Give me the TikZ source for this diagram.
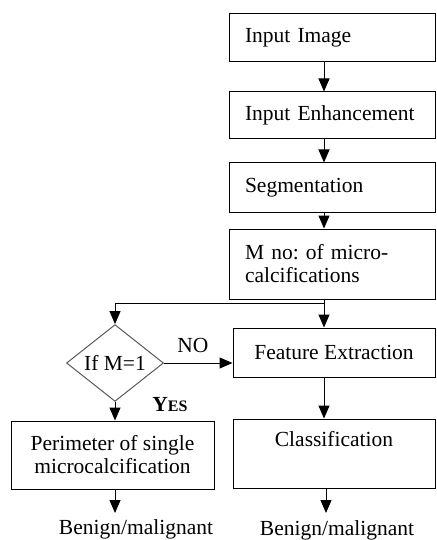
\documentclass[tikz,border=0pt]{standalone}
\usepackage{fontspec}
\setmainfont{Liberation Serif}
\usepackage{tikz}
\usetikzlibrary{shapes.geometric, arrows.meta, positioning}
\frenchspacing

\begin{document}
\begin{tikzpicture}[x=1pt, y=-1pt, font=\fontsize{21.5}{23}\selectfont,
    stage/.style={draw, rectangle, line width=1pt, minimum width=206pt, text width=174pt, inner xsep=16pt, align=left},
    endbox/.style={draw, rectangle, line width=1pt, minimum width=202pt, align=center},
    decision/.style={draw=gray!70!black, diamond, line width=1pt, inner sep=0pt, minimum width=97pt, minimum height=62pt},
    flow/.style={line width=1pt, -{Triangle[length=13pt,width=11pt]}}]
    \useasboundingbox (0,0) rectangle (436,540);

    % main chain
    \node[stage, minimum height=48pt] (img) at (332,38) {Input Image};
    \node[stage, minimum height=47pt] (enh) at (332,115.5) {Input Enhancement};
    \node[stage, minimum height=49pt] (seg) at (332,187.5) {Segmentation};
    \node[stage, minimum height=70pt] (mno) at (332,264) {M no: of micro-\\calcifications};
    \node[endbox, minimum height=49pt] (feat) at (334,352.5) {Feature Extraction};
    \node[endbox, minimum height=69pt] (cls) at (334,453.5) {Classification\\\strut};

    % single microcalcification branch
    \node[decision] (dia) at (115,363) {If M=1};
    \node[endbox, minimum width=203pt, minimum height=68pt] (per) at (112.5,455) {Perimeter of single\\microcalcification};
    \node (no) at (193,345) {NO};
    \node (yes) at (170,405) {\bfseries Y{\fontsize{16}{16}\selectfont ES}};

    % results
    \node[anchor=base] (resL) at (136,534) {Benign/malignant};
    \node[anchor=base] (resR) at (337,535) {Benign/malignant};

    \coordinate (spine) at (324,0);
    \coordinate (split) at (324,303);
    \coordinate (leftend) at (115,513);
    \coordinate (rightend) at (326,513);

    % connectors
    \draw[flow] (img.south -| spine) -- (enh.north -| spine);
    \draw[flow] (enh.south -| spine) -- (seg.north -| spine);
    \draw[flow] (seg.south -| spine) -- (mno.north -| spine);
    \draw[flow] (mno.south -| spine) -- (feat.north -| spine);
    \draw[flow] (split) -| (dia.north);
    \draw[flow] (dia.east) -- (dia.east -| feat.west);
    \draw[flow] (dia.south) -- (dia.south |- per.north);
    \draw[flow] (feat.south -| spine) -- (cls.north -| spine);
    \draw[flow] (dia.south |- per.south) -- (leftend);
    \draw[flow] (cls.south -| rightend) -- (rightend);
\end{tikzpicture}
\end{document}
